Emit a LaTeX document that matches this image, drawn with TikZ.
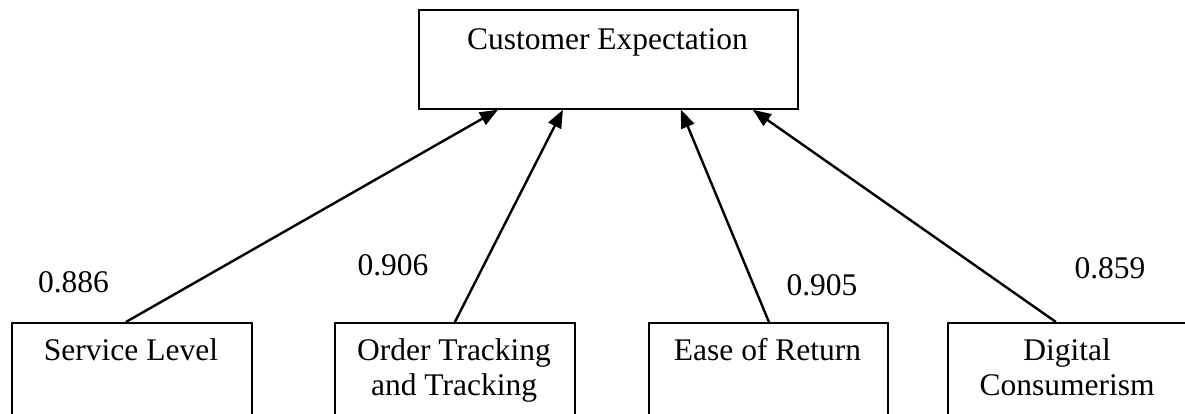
\documentclass[tikz,border=0pt]{standalone}
\usepackage{fontspec}
\setmainfont{Liberation Serif}
\usetikzlibrary{arrows.meta}

\tikzset{
  box/.style={draw=black, line width=1.8pt, rectangle, inner sep=0pt},
  caption/.style={font=\fontsize{31.5}{35}\selectfont, align=center, inner sep=0pt, anchor=base},
  weight/.style={font=\fontsize{31.5}{35}\selectfont, inner sep=0pt},
  link/.style={line width=2.4pt, -{Triangle[length=18pt,width=14pt]}}
}

\begin{document}
\begin{tikzpicture}[x=1pt, y=-1pt]
  \useasboundingbox (0,0) rectangle (1185,414);
  \clip (0,0) rectangle (1185,414);

  % dependent construct
  \node[box, minimum width=379pt, minimum height=99pt, anchor=north west] (ce) at (418,9) {};
  \node[caption] (cet) at (607.5,50) {Customer Expectation};

  % explanatory constructs (boxes run on past the page edges)
  \node[box, minimum width=240pt, minimum height=130pt, anchor=north west] (sl) at (11,322) {};
  \node[box, minimum width=240pt, minimum height=130pt, anchor=north west] (ot) at (334,322) {};
  \node[box, minimum width=239pt, minimum height=130pt, anchor=north west] (er) at (648,322) {};
  \node[box, minimum width=250pt, minimum height=130pt, anchor=north west] (dc) at (947,322) {};

  % single-line captions sit on their baseline, two-line ones on the last line's baseline
  \node[caption] (slt) at (131,360) {Service Level};
  \node[caption] (ott) at (454,395) {Order Tracking\\and Tracking};
  \node[caption] (ert) at (767.5,360) {Ease of Return};
  \node[caption] (dct) at (1067,395) {Digital\\Consumerism};

  % paths
  \draw[link] ([xshift=-6pt]sl.north) -- ([xshift=-110.5pt]ce.south);
  \draw[link] (ot.north) -- ([xshift=-45.5pt]ce.south);
  \draw[link] ([xshift=0.5pt]er.north) -- ([xshift=72.5pt]ce.south);
  \draw[link] ([xshift=-17pt]dc.north) -- ([xshift=144.5pt]ce.south);

  % path coefficients
  \node[weight] (w1) at (73.5,282) {0.886};
  \node[weight] (w2) at (393,265) {0.906};
  \node[weight] (w3) at (822,285) {0.905};
  \node[weight] (w4) at (1110,268) {0.859};
\end{tikzpicture}
\end{document}
